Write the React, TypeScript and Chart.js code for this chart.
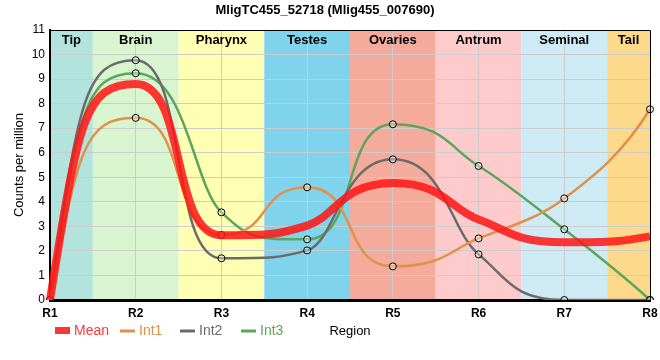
import React, { useEffect, useRef } from "react";
import { Chart, registerables } from "chart.js";
Chart.register(...registerables);

const categories = ["R1", "R2", "R3", "R4", "R5", "R6", "R7", "R8"];
const meanValues = [0, 8.8, 2.64, 3.03, 4.77, 3.28, 2.35, 2.59];
const int1Values = [0, 7.42, 2.65, 4.59, 1.37, 2.51, 4.14, 7.77];
const int2Values = [0, 9.77, 1.7, 2.02, 5.73, 1.86, 0, 0];
const int3Values = [0, 9.24, 3.57, 2.47, 7.16, 5.46, 2.88, 0];
const seriesNames = ["Mean", "Int1", "Int2", "Int3"];
const regionNames = ["Tip", "Brain", "Pharynx", "Testes", "Ovaries", "Antrum", "Seminal", "Tail"];
const regionColors = ["#b3e3dd", "#d9f5d0", "#ffffb4", "#80d3ec", "#f4ab9c", "#fdcbcb", "#cdeaf5", "#fdd98c"];

const FONT = "'Liberation Sans', Arial, sans-serif";
const meanColor = "rgba(255,20,20,0.85)";
const int1Color = "#e0914a";
const int2Color = "#6b6b6b";
const int3Color = "#5ca55c";
const seriesColors = [meanColor, int1Color, int2Color, int3Color];
const legendStarts = [55, 120, 180, 241];

// Smooth spline: flat, wide handles at extrema, limited tangents elsewhere.
function setSplineControlPoints(pts: any[]) {
  const n = pts.length;
  if (n < 2) return;
  const dx: number[] = [];
  const s: number[] = [];
  for (let i = 0; i < n - 1; i++) {
    dx[i] = pts[i + 1].x - pts[i].x;
    s[i] = dx[i] ? (pts[i + 1].y - pts[i].y) / dx[i] : 0;
  }
  const m: number[] = new Array(n).fill(0);
  const L: number[] = new Array(n).fill(1 / 3);
  for (let i = 1; i < n - 1; i++) {
    const a = s[i - 1];
    const b = s[i];
    if (a === 0 || b === 0 || Math.sign(a) !== Math.sign(b)) {
      m[i] = 0;
      L[i] = 0.6;
    } else {
      let t = (a + b) / 2;
      const lim = 3 * Math.min(Math.abs(a), Math.abs(b));
      if (Math.abs(t) > lim) t = Math.sign(t) * lim;
      m[i] = t;
      L[i] = 1 / 3;
    }
  }
  const endTangent = (sec: number, nb: number) => {
    if (sec === 0) return 0;
    let t = 3 * sec - 2 * nb;
    if (Math.sign(t) !== Math.sign(sec)) return 0;
    if (Math.abs(t) > 2.5 * Math.abs(sec)) t = 2.5 * sec;
    return t;
  };
  m[0] = n > 2 ? endTangent(s[0], m[1]) : s[0];
  m[n - 1] = n > 2 ? endTangent(s[n - 2], m[n - 2]) : s[n - 2];
  for (let i = 0; i < n; i++) {
    const p = pts[i];
    if (i > 0) {
      const h = L[i] * dx[i - 1];
      p.cp1x = p.x - h;
      p.cp1y = p.y - h * m[i];
    } else {
      p.cp1x = p.x;
      p.cp1y = p.y;
    }
    if (i < n - 1) {
      const h = L[i] * dx[i];
      p.cp2x = p.x + h;
      p.cp2y = p.y + h * m[i];
    } else {
      p.cp2x = p.x;
      p.cp2y = p.y;
    }
  }
}

const splinePlugin = {
  id: "customSpline",
  beforeDatasetDraw(chart: any, args: any) {
    const meta = args.meta;
    const line = meta.dataset;
    if (!line) return;
    setSplineControlPoints(meta.data);
    line._pointsUpdated = true;
    line._path = undefined;
  },
};

const bandsPlugin = {
  id: "bands",
  beforeDraw(chart: any) {
    const { ctx, chartArea, scales } = chart;
    const { top, bottom, left, right } = chartArea;
    const x = scales.x;
    ctx.save();
    regionNames.forEach((_, i) => {
      const x0 = Math.max(left, x.getPixelForValue(i - 0.5));
      const x1 = Math.min(right, x.getPixelForValue(i + 0.5));
      ctx.fillStyle = regionColors[i];
      ctx.fillRect(x0, top, x1 - x0, bottom - top);
    });
    ctx.restore();
  },
  beforeDatasetsDraw(chart: any) {
    const { ctx, chartArea, scales } = chart;
    const { top, left, right } = chartArea;
    const x = scales.x;
    ctx.save();
    ctx.font = `bold 13px ${FONT}`;
    ctx.fillStyle = "#000";
    ctx.textAlign = "center";
    ctx.textBaseline = "middle";
    regionNames.forEach((name, i) => {
      const x0 = Math.max(left, x.getPixelForValue(i - 0.5));
      const x1 = Math.min(right, x.getPixelForValue(i + 0.5));
      ctx.fillText(name, (x0 + x1) / 2, top + 10);
    });
    ctx.restore();
  },
  afterDraw(chart: any) {
    const { ctx, chartArea } = chart;
    const { top, bottom, left, right } = chartArea;
    ctx.save();
    ctx.strokeStyle = "#000";
    ctx.lineWidth = 1;
    ctx.beginPath();
    ctx.moveTo(left, top + 0.5);
    ctx.lineTo(right + 0.5, top + 0.5);
    ctx.lineTo(right + 0.5, bottom);
    ctx.stroke();
    const ly = 331;
    ctx.font = `14px ${FONT}`;
    ctx.textBaseline = "middle";
    ctx.textAlign = "left";
    seriesNames.forEach((name, i) => {
      const sx = legendStarts[i];
      ctx.fillStyle = seriesColors[i];
      if (i === 0) {
        ctx.fillRect(sx, ly - 4, 15, 7);
      } else {
        ctx.fillRect(sx, ly - 1.5, 15, 3);
      }
      ctx.fillText(name, sx + 19, ly);
    });
    ctx.restore();
  },
};

export default function App() {
  const ref = useRef<HTMLCanvasElement | null>(null);
  useEffect(() => {
    document.body.style.margin = "0";
    const canvas = ref.current!;
    const pointOpts = {
      pointRadius: 3.5,
      pointBorderWidth: 1,
      pointBorderColor: "#000",
      pointBackgroundColor: "rgba(255,255,255,0.35)",
      pointHoverRadius: 3.5,
    };
    const chart = new Chart(canvas, {
      type: "line",
      data: {
        labels: categories,
        datasets: [
          {
            label: seriesNames[0],
            data: meanValues,
            borderColor: meanColor,
            borderWidth: 8,
            pointRadius: 0,
            cubicInterpolationMode: "monotone",
            fill: false,
          },
          {
            label: seriesNames[1],
            data: int1Values,
            borderColor: int1Color,
            borderWidth: 2.5,
            cubicInterpolationMode: "monotone",
            fill: false,
            ...pointOpts,
          },
          {
            label: seriesNames[2],
            data: int2Values,
            borderColor: int2Color,
            borderWidth: 2.5,
            cubicInterpolationMode: "monotone",
            fill: false,
            ...pointOpts,
          },
          {
            label: seriesNames[3],
            data: int3Values,
            borderColor: int3Color,
            borderWidth: 2.5,
            cubicInterpolationMode: "monotone",
            fill: false,
            ...pointOpts,
          },
        ],
      },
      options: {
        animation: false,
        responsive: false,
        maintainAspectRatio: false,
        layout: { padding: { left: 0, right: 10, top: 0, bottom: 15 } },
        plugins: {
          legend: { display: false },
          tooltip: { enabled: false },
          title: {
            display: true,
            text: "MligTC455_52718 (Mlig455_007690)",
            color: "#000",
            font: { family: FONT, size: 13, weight: "bold" },
            padding: { top: 3, bottom: 11.4 },
          },
        },
        scales: {
          x: {
            offset: false,
            grid: { color: "#cccccc", lineWidth: 1, drawTicks: false },
            border: { color: "#000", width: 3 },
            ticks: { color: "#000", font: { family: FONT, size: 12, weight: "bold" }, padding: 6, maxRotation: 0 },
            title: {
              display: true,
              text: "Region",
              color: "#000",
              font: { family: FONT, size: 13 },
              padding: { top: 0, bottom: 6 },
            },
            afterFit: (sc: any) => {
              sc.height = 45;
              sc.paddingLeft = 0;
              sc.paddingRight = 0;
            },
          },
          y: {
            min: 0,
            max: 11,
            grid: { color: "#cccccc", lineWidth: 1, drawTicks: false },
            border: { color: "#000", width: 2 },
            ticks: { stepSize: 1, color: "#000", font: { family: FONT, size: 12 }, padding: 5 },
            title: {
              display: true,
              text: "Counts per million",
              color: "#000",
              font: { family: FONT, size: 13 },
              padding: { top: 12, bottom: 0 },
            },
            afterFit: (sc: any) => {
              sc.width = 50;
            },
          },
        },
      },
      plugins: [bandsPlugin, splinePlugin],
    } as any);
    return () => chart.destroy();
  }, []);
  return <canvas ref={ref} width={660} height={360} style={{ display: "block", width: 660, height: 360 }} />;
}
